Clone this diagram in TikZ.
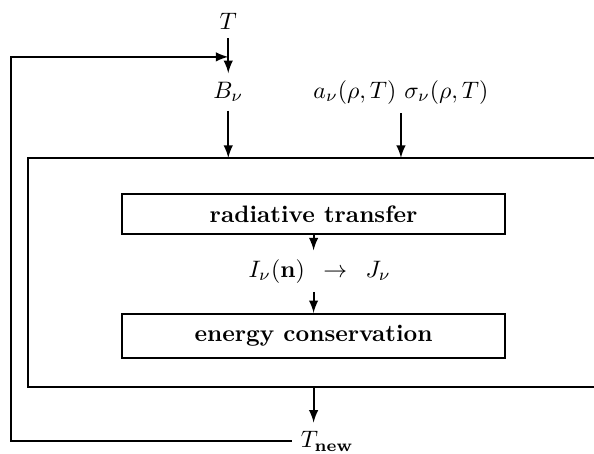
\documentclass[tikz,border=0pt]{standalone}
\tikzset{procbox/.style={draw,thick,minimum width=5.65cm,inner ysep=4.9pt,font=\bfseries}}
\begin{document}
\begin{tikzpicture}[x=1cm,y=1cm,>=latex,thick]
\useasboundingbox (0,0) rectangle (8.77,6.70);
% big frame, open past the right edge
\draw (9.3,4.37) -- (0.41,4.37) -- (0.41,0.99) -- (9.3,0.99);
\coordinate (boxtop) at (0.41,4.37);
\coordinate (boxbot) at (0.41,0.99);
\node[anchor=base] (tin) at (3.37,6.27) {$T$};
\node[anchor=base] (bnu) at (3.37,5.25) {$B_\nu$};
\node[anchor=base] (opac) at (5.92,5.25) {$a_\nu(\rho,T)\ \sigma_\nu(\rho,T)$};
\node[procbox] (rt) at (4.63,3.54) {radiative transfer};
\node[anchor=base] (flux) at (4.72,2.61) {$I_\nu(\mathbf{n})\enspace\rightarrow\enspace J_\nu$};
\node[procbox,anchor=north] (ec) at (4.63,2.08) {energy conservation};
\node[anchor=base] (tnew) at (4.83,0.09) {$T_{\mathbf{new}}$};
\coordinate (loop) at (0.16,5.86);
\coordinate (join) at (3.37,5.86);
\draw[->] (tin) -- (bnu);
\draw[->] (bnu.south) -- (bnu.south |- boxtop);
\draw[->] (opac.south) -- (opac.south |- boxtop);
\draw[->] (rt.south) -- (rt.south |- flux.north);
\draw[->] (ec.north |- flux.south) -- (ec.north);
\draw[->] (ec.south |- boxbot) -- (ec.south |- tnew.north);
\draw[->] (tnew.west) -| (loop) -- (join);
\end{tikzpicture}
\end{document}
